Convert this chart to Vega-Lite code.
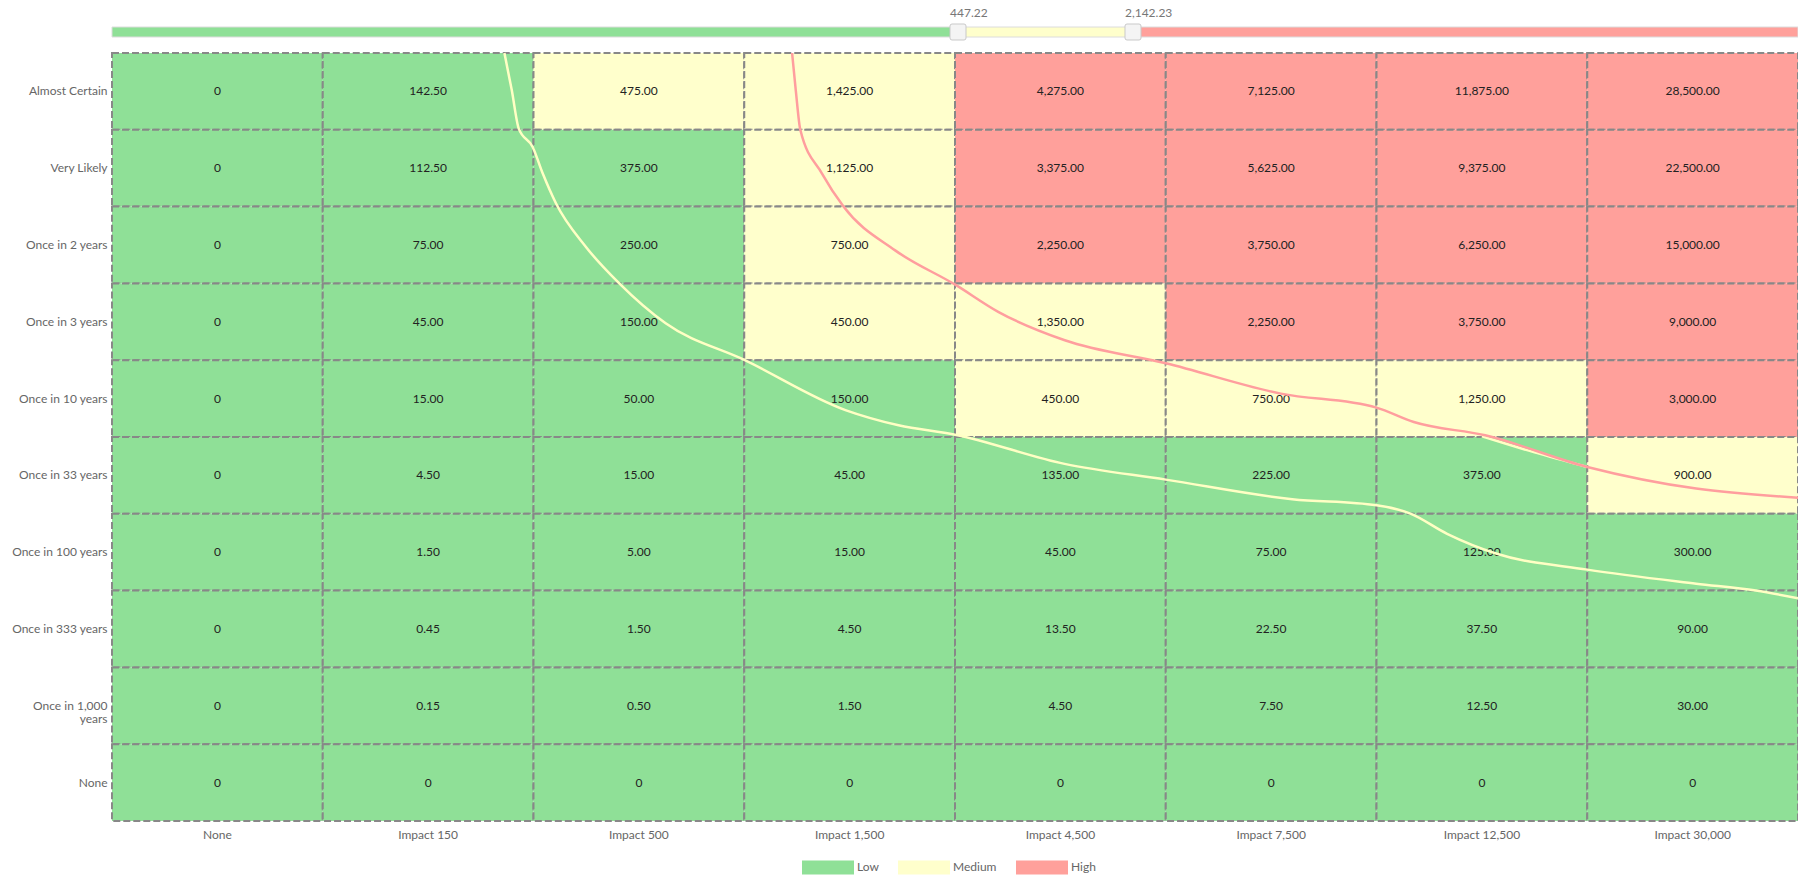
{
  "$schema": "https://vega.github.io/schema/vega-lite/v6.json",
  "background": "white",
  "padding": {"left": 11, "top": 7, "right": 0, "bottom": 0},
  "config": {"font": "Lato", "view": {"stroke": null}},
  "datasets": {
    "cells": [
      {"likelihood": "Almost Certain", "impact": "None", "value": 0, "level": "Low"},
      {"likelihood": "Almost Certain", "impact": "Impact 150", "value": 142.5, "level": "Low"},
      {"likelihood": "Almost Certain", "impact": "Impact 500", "value": 475, "level": "Medium"},
      {"likelihood": "Almost Certain", "impact": "Impact 1,500", "value": 1425, "level": "Medium"},
      {"likelihood": "Almost Certain", "impact": "Impact 4,500", "value": 4275, "level": "High"},
      {"likelihood": "Almost Certain", "impact": "Impact 7,500", "value": 7125, "level": "High"},
      {"likelihood": "Almost Certain", "impact": "Impact 12,500", "value": 11875, "level": "High"},
      {"likelihood": "Almost Certain", "impact": "Impact 30,000", "value": 28500, "level": "High"},
      {"likelihood": "Very Likely", "impact": "None", "value": 0, "level": "Low"},
      {"likelihood": "Very Likely", "impact": "Impact 150", "value": 112.5, "level": "Low"},
      {"likelihood": "Very Likely", "impact": "Impact 500", "value": 375, "level": "Low"},
      {"likelihood": "Very Likely", "impact": "Impact 1,500", "value": 1125, "level": "Medium"},
      {"likelihood": "Very Likely", "impact": "Impact 4,500", "value": 3375, "level": "High"},
      {"likelihood": "Very Likely", "impact": "Impact 7,500", "value": 5625, "level": "High"},
      {"likelihood": "Very Likely", "impact": "Impact 12,500", "value": 9375, "level": "High"},
      {"likelihood": "Very Likely", "impact": "Impact 30,000", "value": 22500, "level": "High"},
      {"likelihood": "Once in 2 years", "impact": "None", "value": 0, "level": "Low"},
      {"likelihood": "Once in 2 years", "impact": "Impact 150", "value": 75, "level": "Low"},
      {"likelihood": "Once in 2 years", "impact": "Impact 500", "value": 250, "level": "Low"},
      {"likelihood": "Once in 2 years", "impact": "Impact 1,500", "value": 750, "level": "Medium"},
      {"likelihood": "Once in 2 years", "impact": "Impact 4,500", "value": 2250, "level": "High"},
      {"likelihood": "Once in 2 years", "impact": "Impact 7,500", "value": 3750, "level": "High"},
      {"likelihood": "Once in 2 years", "impact": "Impact 12,500", "value": 6250, "level": "High"},
      {"likelihood": "Once in 2 years", "impact": "Impact 30,000", "value": 15000, "level": "High"},
      {"likelihood": "Once in 3 years", "impact": "None", "value": 0, "level": "Low"},
      {"likelihood": "Once in 3 years", "impact": "Impact 150", "value": 45, "level": "Low"},
      {"likelihood": "Once in 3 years", "impact": "Impact 500", "value": 150, "level": "Low"},
      {"likelihood": "Once in 3 years", "impact": "Impact 1,500", "value": 450, "level": "Medium"},
      {"likelihood": "Once in 3 years", "impact": "Impact 4,500", "value": 1350, "level": "Medium"},
      {"likelihood": "Once in 3 years", "impact": "Impact 7,500", "value": 2250, "level": "High"},
      {"likelihood": "Once in 3 years", "impact": "Impact 12,500", "value": 3750, "level": "High"},
      {"likelihood": "Once in 3 years", "impact": "Impact 30,000", "value": 9000, "level": "High"},
      {"likelihood": "Once in 10 years", "impact": "None", "value": 0, "level": "Low"},
      {"likelihood": "Once in 10 years", "impact": "Impact 150", "value": 15, "level": "Low"},
      {"likelihood": "Once in 10 years", "impact": "Impact 500", "value": 50, "level": "Low"},
      {"likelihood": "Once in 10 years", "impact": "Impact 1,500", "value": 150, "level": "Low"},
      {"likelihood": "Once in 10 years", "impact": "Impact 4,500", "value": 450, "level": "Medium"},
      {"likelihood": "Once in 10 years", "impact": "Impact 7,500", "value": 750, "level": "Medium"},
      {"likelihood": "Once in 10 years", "impact": "Impact 12,500", "value": 1250, "level": "Medium"},
      {"likelihood": "Once in 10 years", "impact": "Impact 30,000", "value": 3000, "level": "High"},
      {"likelihood": "Once in 33 years", "impact": "None", "value": 0, "level": "Low"},
      {"likelihood": "Once in 33 years", "impact": "Impact 150", "value": 4.5, "level": "Low"},
      {"likelihood": "Once in 33 years", "impact": "Impact 500", "value": 15, "level": "Low"},
      {"likelihood": "Once in 33 years", "impact": "Impact 1,500", "value": 45, "level": "Low"},
      {"likelihood": "Once in 33 years", "impact": "Impact 4,500", "value": 135, "level": "Low"},
      {"likelihood": "Once in 33 years", "impact": "Impact 7,500", "value": 225, "level": "Low"},
      {"likelihood": "Once in 33 years", "impact": "Impact 12,500", "value": 375, "level": "Low"},
      {"likelihood": "Once in 33 years", "impact": "Impact 30,000", "value": 900, "level": "Medium"},
      {"likelihood": "Once in 100 years", "impact": "None", "value": 0, "level": "Low"},
      {"likelihood": "Once in 100 years", "impact": "Impact 150", "value": 1.5, "level": "Low"},
      {"likelihood": "Once in 100 years", "impact": "Impact 500", "value": 5, "level": "Low"},
      {"likelihood": "Once in 100 years", "impact": "Impact 1,500", "value": 15, "level": "Low"},
      {"likelihood": "Once in 100 years", "impact": "Impact 4,500", "value": 45, "level": "Low"},
      {"likelihood": "Once in 100 years", "impact": "Impact 7,500", "value": 75, "level": "Low"},
      {"likelihood": "Once in 100 years", "impact": "Impact 12,500", "value": 125, "level": "Low"},
      {"likelihood": "Once in 100 years", "impact": "Impact 30,000", "value": 300, "level": "Low"},
      {"likelihood": "Once in 333 years", "impact": "None", "value": 0, "level": "Low"},
      {"likelihood": "Once in 333 years", "impact": "Impact 150", "value": 0.45, "level": "Low"},
      {"likelihood": "Once in 333 years", "impact": "Impact 500", "value": 1.5, "level": "Low"},
      {"likelihood": "Once in 333 years", "impact": "Impact 1,500", "value": 4.5, "level": "Low"},
      {"likelihood": "Once in 333 years", "impact": "Impact 4,500", "value": 13.5, "level": "Low"},
      {"likelihood": "Once in 333 years", "impact": "Impact 7,500", "value": 22.5, "level": "Low"},
      {"likelihood": "Once in 333 years", "impact": "Impact 12,500", "value": 37.5, "level": "Low"},
      {"likelihood": "Once in 333 years", "impact": "Impact 30,000", "value": 90, "level": "Low"},
      {"likelihood": "Once in 1,000 years", "impact": "None", "value": 0, "level": "Low"},
      {"likelihood": "Once in 1,000 years", "impact": "Impact 150", "value": 0.15, "level": "Low"},
      {"likelihood": "Once in 1,000 years", "impact": "Impact 500", "value": 0.5, "level": "Low"},
      {"likelihood": "Once in 1,000 years", "impact": "Impact 1,500", "value": 1.5, "level": "Low"},
      {"likelihood": "Once in 1,000 years", "impact": "Impact 4,500", "value": 4.5, "level": "Low"},
      {"likelihood": "Once in 1,000 years", "impact": "Impact 7,500", "value": 7.5, "level": "Low"},
      {"likelihood": "Once in 1,000 years", "impact": "Impact 12,500", "value": 12.5, "level": "Low"},
      {"likelihood": "Once in 1,000 years", "impact": "Impact 30,000", "value": 30, "level": "Low"},
      {"likelihood": "None", "impact": "None", "value": 0, "level": "Low"},
      {"likelihood": "None", "impact": "Impact 150", "value": 0, "level": "Low"},
      {"likelihood": "None", "impact": "Impact 500", "value": 0, "level": "Low"},
      {"likelihood": "None", "impact": "Impact 1,500", "value": 0, "level": "Low"},
      {"likelihood": "None", "impact": "Impact 4,500", "value": 0, "level": "Low"},
      {"likelihood": "None", "impact": "Impact 7,500", "value": 0, "level": "Low"},
      {"likelihood": "None", "impact": "Impact 12,500", "value": 0, "level": "Low"},
      {"likelihood": "None", "impact": "Impact 30,000", "value": 0, "level": "Low"}
    ],
    "yellowCurve": [
      {"col": 1.862, "row": 0}, {"col": 1.897, "row": 0.486}, {"col": 1.93, "row": 0.985},
      {"col": 1.996, "row": 1.224}, {"col": 2.044, "row": 1.57}, {"col": 2.107, "row": 1.96},
      {"col": 2.249, "row": 2.526}, {"col": 2.407, "row": 3.0}, {"col": 2.627, "row": 3.52},
      {"col": 3.003, "row": 4.0}, {"col": 3.48, "row": 4.65}, {"col": 3.732, "row": 4.848},
      {"col": 4.0, "row": 4.97}, {"col": 4.52, "row": 5.35}, {"col": 5.0, "row": 5.555},
      {"col": 5.6, "row": 5.81}, {"col": 6.0, "row": 5.89}, {"col": 6.161, "row": 5.997},
      {"col": 6.335, "row": 6.26}, {"col": 6.571, "row": 6.52}, {"col": 7.0, "row": 6.727},
      {"col": 7.517, "row": 6.91}, {"col": 7.8, "row": 7.0}, {"col": 8.0, "row": 7.1}
    ],
    "yellowPiece": [
      {"col": 6.5, "row": 4.99}, {"col": 6.75, "row": 5.2}, {"col": 7.0, "row": 5.39}
    ],
    "redCurve": [
      {"col": 3.227, "row": 0}, {"col": 3.245, "row": 0.5}, {"col": 3.266, "row": 1.0},
      {"col": 3.369, "row": 1.57}, {"col": 3.471, "row": 2.0}, {"col": 3.716, "row": 2.57},
      {"col": 4.003, "row": 3.02}, {"col": 4.205, "row": 3.37}, {"col": 4.521, "row": 3.74},
      {"col": 5.001, "row": 4.04}, {"col": 5.546, "row": 4.435}, {"col": 6.0, "row": 4.617},
      {"col": 6.177, "row": 4.805}, {"col": 6.516, "row": 4.978}, {"col": 7.0, "row": 5.39},
      {"col": 7.517, "row": 5.672}, {"col": 8.0, "row": 5.79}
    ],
    "sliderBands": [
      {"level": "Low", "start": 0, "end": 447.22},
      {"level": "Medium", "start": 447.22, "end": 2142.23},
      {"level": "High", "start": 2142.23, "end": 28500}
    ],
    "sliderHandles": [
      {"threshold": 447.22},
      {"threshold": 2142.23}
    ]
  },
  "spacing": 6,
  "resolve": {"scale": {"color": "independent", "x": "independent"}},
  "vconcat": [
    {
      "width": 1686,
      "height": 10,
      "layer": [
        {
          "data": {"name": "sliderBands"},
          "mark": {"type": "rect", "stroke": "#dcdcdc", "strokeWidth": 1},
          "encoding": {
            "x": {"field": "start", "type": "quantitative", "axis": null,
                  "scale": {"domain": [0, 447.22, 2142.23, 28500], "range": [0, 846, 1021, 1686], "zero": false, "nice": false}},
            "x2": {"field": "end"},
            "color": {"field": "level", "type": "nominal", "legend": null,
                      "scale": {"domain": ["Low", "Medium", "High"], "range": ["#8FE097", "#FFFFCC", "#FFA09B"]}}
          }
        },
        {
          "data": {"name": "sliderHandles"},
          "mark": {"type": "point", "filled": true, "fill": "#f4f4f4", "stroke": "#c9c9c9", "strokeWidth": 1, "opacity": 1, "size": 256,
                   "shape": "M-0.75,-1L0.75,-1Q1,-1 1,-0.75L1,0.75Q1,1 0.75,1L-0.75,1Q-1,1 -1,0.75L-1,-0.75Q-1,-1 -0.75,-1Z"},
          "encoding": {
            "x": {"field": "threshold", "type": "quantitative", "axis": null}
          }
        },
        {
          "data": {"name": "sliderHandles"},
          "mark": {"type": "text", "align": "left", "baseline": "middle", "dx": -8, "dy": -19, "fontSize": 12, "color": "#777777"},
          "encoding": {
            "x": {"field": "threshold", "type": "quantitative", "axis": null},
            "text": {"field": "threshold", "type": "quantitative", "format": ",.2f"}
          }
        }
      ]
    },
    {
      "width": 1686,
      "height": 768,
      "resolve": {"scale": {"x": "independent", "y": "independent"}},
      "layer": [
        {
          "data": {"name": "cells"},
          "mark": {"type": "rect", "stroke": "#888888", "strokeWidth": 2, "strokeDash": [7, 3]},
          "encoding": {
            "x": {"field": "impact", "type": "nominal",
                  "sort": ["None", "Impact 150", "Impact 500", "Impact 1,500", "Impact 4,500", "Impact 7,500", "Impact 12,500", "Impact 30,000"],
                  "axis": {"title": null, "ticks": false, "domain": false, "labelAngle": 0, "labelPadding": 8, "labelFontSize": 12, "labelColor": "#666666"}},
            "y": {"field": "likelihood", "type": "nominal",
                  "sort": ["Almost Certain", "Very Likely", "Once in 2 years", "Once in 3 years", "Once in 10 years", "Once in 33 years", "Once in 100 years", "Once in 333 years", "Once in 1,000 years", "None"],
                  "axis": {"title": null, "ticks": false, "domain": false, "labelPadding": 5, "labelFontSize": 12, "labelColor": "#666666", "labelLineHeight": 13,
                           "labelExpr": "datum.value == 'Once in 1,000 years' ? ['Once in 1,000', 'years'] : datum.label"}},
            "color": {"field": "level", "type": "nominal",
                      "scale": {"domain": ["Low", "Medium", "High"], "range": ["#8FE097", "#FFFFCC", "#FFA09B"]},
                      "legend": {"title": null, "orient": "none", "direction": "horizontal", "legendX": 690, "legendY": 788,
                                 "symbolType": "M-1,-0.27L1,-0.27L1,0.27L-1,0.27Z", "symbolSize": 2704, "symbolStrokeWidth": 0, "symbolOpacity": 1,
                                 "labelFontSize": 12, "labelColor": "#666666", "labelOffset": 3, "columnPadding": 19}}
          }
        },
        {
          "data": {"name": "cells"},
          "mark": {"type": "text", "fontSize": 12, "color": "#222222"},
          "encoding": {
            "x": {"field": "impact", "type": "nominal", "axis": null,
                  "sort": ["None", "Impact 150", "Impact 500", "Impact 1,500", "Impact 4,500", "Impact 7,500", "Impact 12,500", "Impact 30,000"]},
            "y": {"field": "likelihood", "type": "nominal", "axis": null,
                  "sort": ["Almost Certain", "Very Likely", "Once in 2 years", "Once in 3 years", "Once in 10 years", "Once in 33 years", "Once in 100 years", "Once in 333 years", "Once in 1,000 years", "None"]},
            "text": {"condition": {"test": "datum.value === 0", "value": "0"}, "field": "value", "type": "quantitative", "format": ",.2f"}
          }
        },
        {
          "data": {"name": "yellowPiece"},
          "mark": {"type": "line", "color": "#FFFFC4", "strokeWidth": 2.5, "interpolate": "monotone"},
          "encoding": {
            "x": {"field": "col", "type": "quantitative", "axis": null, "scale": {"domain": [0, 8], "nice": false, "zero": false}},
            "y": {"field": "row", "type": "quantitative", "axis": null, "scale": {"domain": [0, 10], "reverse": true, "nice": false, "zero": false}}
          }
        },
        {
          "data": {"name": "yellowCurve"},
          "mark": {"type": "line", "color": "#FFFFC4", "strokeWidth": 2.5, "interpolate": "monotone"},
          "encoding": {
            "x": {"field": "col", "type": "quantitative", "axis": null, "scale": {"domain": [0, 8], "nice": false, "zero": false}},
            "y": {"field": "row", "type": "quantitative", "axis": null, "scale": {"domain": [0, 10], "reverse": true, "nice": false, "zero": false}}
          }
        },
        {
          "data": {"name": "redCurve"},
          "mark": {"type": "line", "color": "#FF9E9E", "strokeWidth": 2.5, "interpolate": "monotone"},
          "encoding": {
            "x": {"field": "col", "type": "quantitative", "axis": null, "scale": {"domain": [0, 8], "nice": false, "zero": false}},
            "y": {"field": "row", "type": "quantitative", "axis": null, "scale": {"domain": [0, 10], "reverse": true, "nice": false, "zero": false}}
          }
        }
      ]
    }
  ]
}
